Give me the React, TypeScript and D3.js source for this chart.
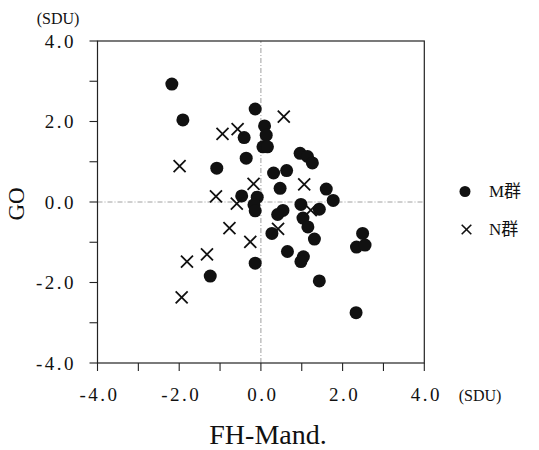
import React from "react";
import * as d3 from "d3";

const mX = [-2.18,-1.91,-0.14,0.09,0.13,0.05,0.16,-0.41,-0.36,-1.08,0.96,1.14,1.26,0.31,0.63,0.47,1.60,1.77,0.98,1.43,0.54,0.41,1.03,1.15,1.31,0.27,-0.47,-0.09,-0.17,-0.14,-0.14,-1.24,2.49,2.34,2.55,1.43,2.33,0.65,1.04,0.98];
const mY = [2.93,2.04,2.31,1.89,1.66,1.37,1.37,1.60,1.09,0.84,1.21,1.13,0.97,0.72,0.78,0.34,0.32,0.04,-0.06,-0.18,-0.21,-0.31,-0.40,-0.62,-0.92,-0.78,0.15,0.12,-0.07,-0.22,-1.52,-1.84,-0.78,-1.12,-1.07,-1.96,-2.75,-1.23,-1.36,-1.48];
const nX = [-1.99,-0.94,-0.57,0.56,-0.18,-1.10,-0.59,-0.77,-0.26,-1.32,-1.81,-1.94,1.06,1.22,0.42];
const nY = [0.89,1.69,1.81,2.12,0.45,0.14,-0.04,-0.65,-0.99,-1.30,-1.48,-2.37,0.44,-0.20,-0.67];
const majorTicks = [-4, -2, 0, 2, 4];
const minorTicks = [-3, -1, 1, 3];
const tickLabels = ["-4.0", "-2.0", "0.0", "2.0", "4.0"];
const unitLabel = "(SDU)";
const xTitle = "FH-Mand.";
const yTitle = "GO";
const legendLabels = ["M群", "N群"];

const serif = "'Liberation Serif', 'DejaVu Serif', 'Noto Sans CJK JP', serif";

export default function App() {
  const x = d3.scaleLinear().domain([-4, 4]).range([97.5, 424.3]);
  const y = d3.scaleLinear().domain([-4, 4]).range([363, 41]);
  const ink = "#111";
  const allTicks = [...majorTicks, ...minorTicks];
  const xs = (s: number) => `M${-s},${-s}L${s},${s}M${-s},${s}L${s},${-s}`;
  return (
    <svg width={539} height={450} style={{ position: "absolute", left: 0, top: 0, background: "#fff" }}>
      <line x1={x(-4)} x2={x(4)} y1={y(0)} y2={y(0)} stroke="#888" strokeWidth={0.8} strokeDasharray="5 2 1 2" />
      <line x1={x(0)} x2={x(0)} y1={y(-4)} y2={y(4)} stroke="#888" strokeWidth={0.8} strokeDasharray="5 2 1 2" />
      <rect x={x(-4)} y={y(4)} width={x(4) - x(-4)} height={y(-4) - y(4)} fill="none" stroke="#222" strokeWidth={1.2} />
      {allTicks.map((t) => (
        <line key={"yt" + t} x1={x(-4) - 8} x2={x(-4)} y1={y(t)} y2={y(t)} stroke="#222" strokeWidth={1.1} />
      ))}
      {allTicks.map((t) => (
        <line key={"xt" + t} x1={x(t)} x2={x(t)} y1={y(-4)} y2={y(-4) + 8} stroke="#222" strokeWidth={1.1} />
      ))}
      {majorTicks.map((t, i) => (
        <text key={"yl" + t} x={76} y={y(t)} dy="0.36em" textAnchor="end" fontFamily={serif} fontSize={19} letterSpacing={2.5} fill={ink}>
          {tickLabels[i]}
        </text>
      ))}
      {majorTicks.map((t, i) => (
        <text key={"xl" + t} x={x(t) + 2} y={401} textAnchor="middle" fontFamily={serif} fontSize={19} letterSpacing={2.5} fill={ink}>
          {tickLabels[i]}
        </text>
      ))}
      <text x={58} y={24} textAnchor="middle" fontFamily={serif} fontSize={16} fill={ink}>{unitLabel}</text>
      <text x={480} y={401} textAnchor="middle" fontFamily={serif} fontSize={16} fill={ink}>{unitLabel}</text>
      <text transform={`translate(24,${y(0) + 2}) rotate(-90)`} textAnchor="middle" fontFamily={serif} fontSize={23} fill={ink}>{yTitle}</text>
      <text x={268} y={444} textAnchor="middle" fontFamily={serif} fontSize={28} fill={ink}>{xTitle}</text>
      {mX.map((v, i) => (
        <circle key={"m" + i} cx={x(v)} cy={y(mY[i])} r={6.5} fill={ink} />
      ))}
      {nX.map((v, i) => (
        <path key={"n" + i} d={xs(6)} transform={`translate(${x(v)},${y(nY[i])})`} stroke={ink} strokeWidth={1.8} fill="none" />
      ))}
      <circle cx={465} cy={191.5} r={5.5} fill={ink} />
      <path d={xs(4.8)} transform="translate(466.5,229.5)" stroke={ink} strokeWidth={1.6} fill="none" />
      <text x={489} y={197} fontFamily={serif} fontSize={17} fill={ink}>{legendLabels[0]}</text>
      <text x={489} y={235} fontFamily={serif} fontSize={17} fill={ink}>{legendLabels[1]}</text>
    </svg>
  );
}
